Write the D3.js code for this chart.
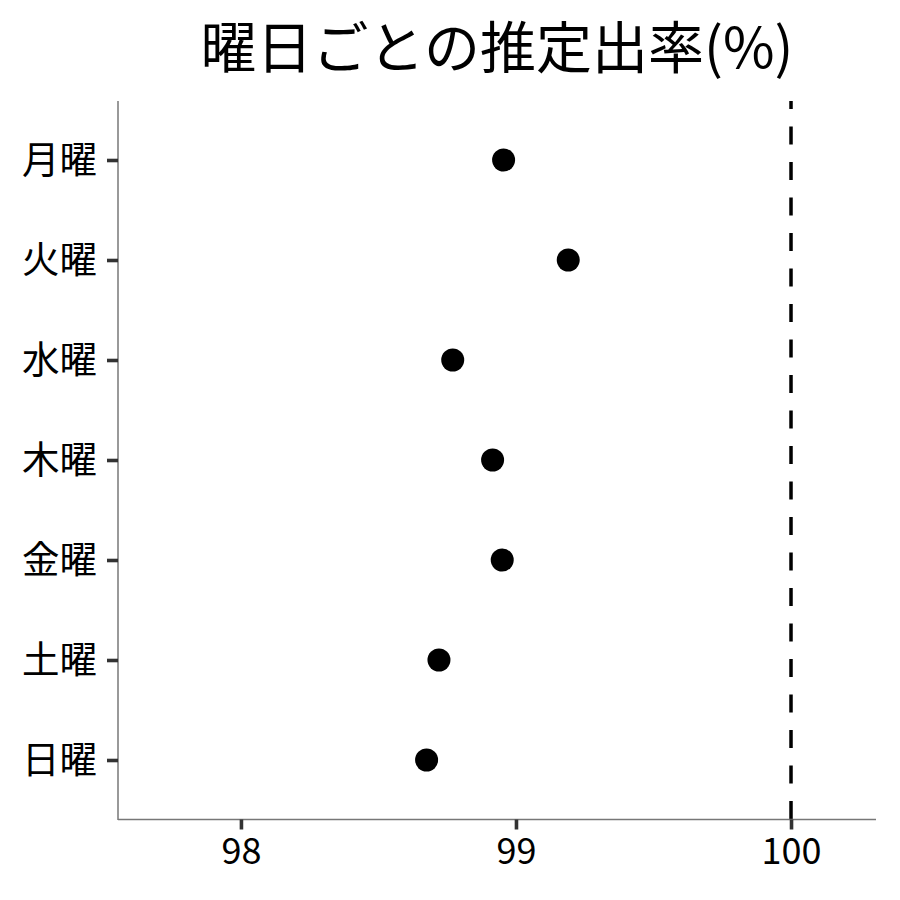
<!DOCTYPE html>
<html><head><meta charset="utf-8">
<script src="https://cdn.jsdelivr.net/npm/d3@7"></script>
<style>
html,body{margin:0;padding:0;background:#fff;}
svg{display:block;font-family:"Noto Sans CJK JP","Noto Sans",sans-serif;}
</style></head>
<body>
<script>
const title = "曜日ごとの推定出率(%)";
const days = ["月曜","火曜","水曜","木曜","金曜","土曜","日曜"];
const rates = [98.955, 99.19, 98.77, 98.915, 98.95, 98.72, 98.675];
const xTicks = [98, 99, 100];
const refValue = 100;

const W = 900, H = 900;
const L = 118, R = 876, T = 101, B = 819;

const svg = d3.select("body").append("svg").attr("width", W).attr("height", H);

const x = d3.scaleLinear().domain([97.553, 100.309]).range([L, R]);
const y = d3.scalePoint().domain(days).range([T, B]).padding(0.59);

// reference dashed line
svg.append("line")
  .attr("x1", x(refValue)).attr("x2", x(refValue))
  .attr("y1", B).attr("y2", T)
  .attr("stroke", "#000").attr("stroke-width", 3.5)
  .attr("stroke-dasharray", "18,17.5");

// axes
const xAxis = svg.append("g").attr("transform", `translate(0,${B + 0.5})`)
  .call(d3.axisBottom(x).tickValues(xTicks).tickSize(10).tickPadding(9).tickFormat(d3.format("d")));
const yAxis = svg.append("g").attr("transform", `translate(${L},0)`)
  .call(d3.axisLeft(y).tickSize(11).tickPadding(10));

[xAxis, yAxis].forEach(g => {
  g.select(".domain").attr("stroke", "#777").attr("stroke-width", 1.5);
  g.selectAll(".tick line").attr("stroke", "#333").attr("stroke-width", 3.6);
  g.selectAll(".tick text").attr("fill", "#000")
    .style("font-family", '"Noto Sans CJK JP","Noto Sans",sans-serif');
});
xAxis.selectAll(".tick text").style("font-size", "36px");
yAxis.selectAll(".tick text").style("font-size", "37.5px");
yAxis.select(".domain").attr("d", `M0,${T}V${B + 1}`);
xAxis.select(".domain").attr("d", `M${L},0H${R}`);

// points
svg.append("g").selectAll("circle").data(days).join("circle")
  .attr("cx", (d, i) => x(rates[i]))
  .attr("cy", d => y(d))
  .attr("r", 11.5)
  .attr("fill", "#000");

// title
svg.append("text")
  .attr("x", 497).attr("y", 68)
  .attr("text-anchor", "middle")
  .style("font-size", "56px")
  .attr("fill", "#000")
  .text(title);
</script>
</body></html>
